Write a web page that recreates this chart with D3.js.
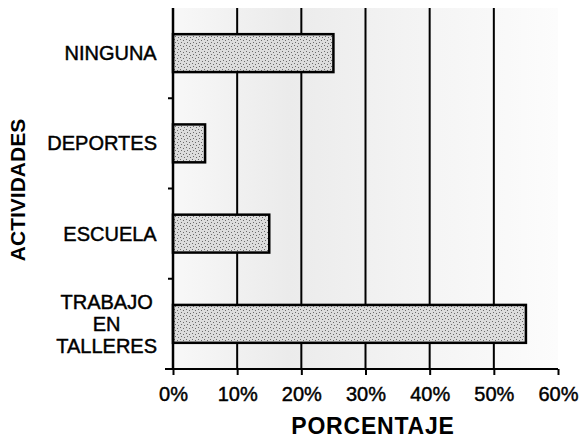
<!DOCTYPE html>
<html>
<head>
<meta charset="utf-8">
<script src="https://cdn.jsdelivr.net/npm/d3@7"></script>
<style>
  body { margin: 0; background: #fff; }
  text { font-family: "Liberation Sans", Arial, sans-serif; fill: #000; }
  .cat { font-size: 20px; stroke: #000; stroke-width: 0.45px; }
  .tick-label { stroke: #000; stroke-width: 0.45px; }
  .title { font-weight: bold; }
</style>
</head>
<body>
<div class="chart"></div>
<script>
// data
const categories = ['NINGUNA', 'DEPORTES', 'ESCUELA', 'TRABAJO EN TALLERES'];
const categoryLines = [['NINGUNA'], ['DEPORTES'], ['ESCUELA'], ['TRABAJO', 'EN', 'TALLERES']];
const values = [25, 5, 15, 55];
const xTicks = [0, 10, 20, 30, 40, 50, 60];
const xTitle = 'PORCENTAJE';
const yTitle = 'ACTIVIDADES';

const W = 581, H = 439;
const margin = {top: 8, right: 23, bottom: 70, left: 173};
const width = W - margin.left - margin.right;
const height = H - margin.top - margin.bottom;

const svg = d3.select('.chart').append('svg')
  .attr('width', W)
  .attr('height', H);

const defs = svg.append('defs');

// speckled fill used for the bars
const speck = defs.append('pattern')
  .attr('id', 'speck')
  .attr('width', 6).attr('height', 6)
  .attr('patternUnits', 'userSpaceOnUse');
speck.append('rect').attr('width', 6).attr('height', 6).attr('fill', '#dcdcdc');
[[1, 1], [4, 2], [2, 4], [5, 5]].forEach(p => {
  speck.append('rect').attr('x', p[0]).attr('y', p[1])
    .attr('width', 1).attr('height', 1).attr('fill', '#6a6a6a');
});

const bgGrad = defs.append('linearGradient').attr('id', 'bg');
bgGrad.append('stop').attr('offset', '0%').attr('stop-color', '#f8f8f8');
bgGrad.append('stop').attr('offset', '30%').attr('stop-color', '#ebebeb');
bgGrad.append('stop').attr('offset', '60%').attr('stop-color', '#f3f3f3');
bgGrad.append('stop').attr('offset', '100%').attr('stop-color', '#fcfcfc');

const x = d3.scaleLinear().domain([0, 60]).range([0, width]);
const y = d3.scaleBand().domain(categories).range([0, height])
  .paddingInner(0.58).paddingOuter(0.29);

const g = svg.append('g')
  .attr('transform', 'translate(' + margin.left + ',' + margin.top + ')');

// plot background
g.append('rect')
  .attr('x', 0).attr('y', 0)
  .attr('width', x(60)).attr('height', height)
  .attr('fill', 'url(#bg)');

// gridlines
g.selectAll('.grid')
  .data(xTicks.filter(d => d > 0 && d < 60))
  .enter().append('line')
  .attr('x1', d => x(d)).attr('x2', d => x(d))
  .attr('y1', 0).attr('y2', height)
  .attr('stroke', '#000').attr('stroke-width', 2);

// bars
g.selectAll('.bar')
  .data(values)
  .enter().append('rect')
  .attr('x', x(0))
  .attr('y', (d, i) => y(categories[i]))
  .attr('width', d => x(d) - x(0))
  .attr('height', y.bandwidth())
  .attr('fill', 'url(#speck)')
  .attr('stroke', '#000')
  .attr('stroke-width', 2.5);

// x axis
const xAxis = g.append('g')
  .attr('transform', 'translate(0,' + height + ')')
  .call(d3.axisBottom(x).tickValues(xTicks).tickSize(6).tickPadding(12)
    .tickFormat(d => d + '%'));
xAxis.select('.domain').remove();
xAxis.append('line')
  .attr('x1', -8).attr('x2', x(60))
  .attr('stroke', '#000').attr('stroke-width', 2);
xAxis.selectAll('.tick line').attr('stroke-width', 2);
xAxis.selectAll('.tick text')
  .attr('class', 'tick-label')
  .attr('fill', '#000')
  .style('font-family', '"Liberation Sans", Arial, sans-serif')
  .style('font-size', '20px');

// y axis line and ticks at band boundaries
g.append('line')
  .attr('x1', 0).attr('x2', 0).attr('y1', 0).attr('y2', height)
  .attr('stroke', '#000').attr('stroke-width', 2.5);
const bounds = categories.slice(1).map(c => y(c) - y.step() * y.paddingInner() / 2);
g.selectAll('.ytick')
  .data(bounds)
  .enter().append('line')
  .attr('x1', -5).attr('x2', 0)
  .attr('y1', d => d).attr('y2', d => d)
  .attr('stroke', '#000').attr('stroke-width', 2);

// category labels, lines centred inside a right-aligned block
const labelRight = -16;
const lineH = 22;
categoryLines.forEach((lines, i) => {
  const cy = y(categories[i]) + y.bandwidth() / 2;
  const t = g.append('text').attr('class', 'cat')
    .attr('text-anchor', 'middle');
  lines.forEach((ln, j) => {
    t.append('tspan')
      .attr('x', 0)
      .attr('y', cy + 7 + (j - (lines.length - 1) / 2) * lineH)
      .text(ln);
  });
  const w = t.node().getBBox().width;
  t.selectAll('tspan').attr('x', labelRight - w / 2);
});

// titles
svg.append('text')
  .attr('class', 'title')
  .attr('x', 373).attr('y', 434)
  .attr('text-anchor', 'middle')
  .style('font-size', '23px')
  .style('letter-spacing', '0.8px')
  .text(xTitle);

svg.append('text')
  .attr('class', 'title')
  .attr('transform', 'translate(25,190) rotate(-90)')
  .attr('text-anchor', 'middle')
  .style('font-size', '21px')
  .text(yTitle);
</script>
</body>
</html>
